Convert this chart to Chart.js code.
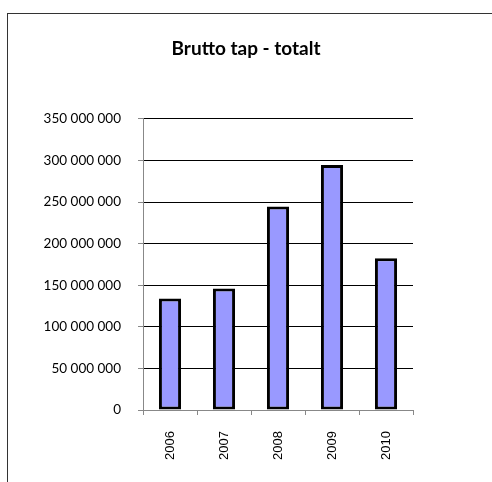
<!DOCTYPE html>
<html>
<head>
<meta charset="utf-8">
<script src="https://cdn.jsdelivr.net/npm/chart.js@4/dist/chart.umd.min.js"></script>
<style>
  html, body { margin: 0; padding: 0; background: #fff; overflow: hidden; }
  #wrap { position: relative; width: 492px; height: 482px; }
  #frame {
    position: absolute; left: 7px; top: 13px; width: 520px; height: 520px;
    border-left: 1px solid #333; border-top: 1px solid #333;
    pointer-events: none;
  }
  canvas { position: absolute; left: 0; top: 0; }
</style>
</head>
<body>
<div id="wrap">
  <canvas id="chart" width="492" height="482"></canvas>
  <div id="frame"></div>
</div>
<script>
const years = ['2006', '2007', '2008', '2009', '2010'];
const bruttoTap = [134000000, 146000000, 244500000, 294500000, 182500000];
const yMax = 350000000;
const yStep = 50000000;

// "350 000 000" style thousands separator
function spaced(v) {
    return String(v).replace(/\B(?=(\d{3})+(?!\d))/g, ' ');
}

const ctx = document.getElementById('chart').getContext('2d');
new Chart(ctx, {
    type: 'bar',
    data: {
        labels: years,
        datasets: [{
            label: 'Brutto tap',
            data: bruttoTap,
            backgroundColor: '#9999ff',
            borderColor: '#000',
            borderWidth: 3,
            borderSkipped: false,
            barPercentage: 0.41,
            categoryPercentage: 1
        }]
    },
    options: {
        responsive: false,
        animation: false,
        layout: { padding: 0 },
        plugins: {
            legend: { display: false },
            tooltip: { enabled: false },
            title: {
                display: true,
                text: 'Brutto tap - totalt',
                color: '#000',
                font: { family: 'Lato', size: 19, weight: 'bold' },
                padding: { top: 37, bottom: 59 }
            }
        },
        scales: {
            y: {
                min: 0,
                max: yMax,
                afterFit: s => { s.width = 143; },
                border: { color: '#888', width: 1 },
                grid: { color: '#000', tickColor: '#888', tickLength: 5, lineWidth: 1 },
                ticks: {
                    stepSize: yStep,
                    padding: 17,
                    color: '#000',
                    font: { family: 'Lato', size: 13.5 },
                    callback: v => spaced(v)
                }
            },
            // empty right-hand box: keeps white space right of the plot
            // while the title stays centred on the whole canvas
            spacer: {
                type: 'linear',
                position: 'right',
                afterFit: s => { s.width = 79; },
                border: { display: false },
                grid: { display: false },
                ticks: { display: false }
            },
            x: {
                afterFit: s => { s.height = 72; },
                border: { color: '#888', width: 1 },
                grid: { drawOnChartArea: false, offset: true, tickColor: '#888', tickLength: 5 },
                ticks: {
                    minRotation: 90,
                    maxRotation: 90,
                    padding: 16,
                    color: '#000',
                    font: { family: 'Liberation Sans', size: 13 }
                }
            }
        }
    }
});
</script>
</body>
</html>
